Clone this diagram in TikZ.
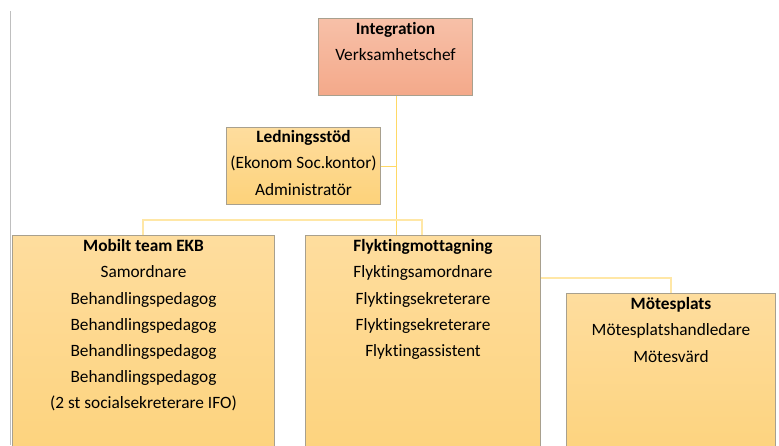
\documentclass[tikz,border=0pt]{standalone}
\usepackage{fontspec}
\setmainfont[Ligatures={NoCommon,TeX}]{Carlito}
\definecolor{salmonTop}{HTML}{F7C0A8}
\definecolor{salmonBot}{HTML}{F4A98A}
\definecolor{yelTop}{HTML}{FEDD9E}
\definecolor{yelBot}{HTML}{FDD27A}
\definecolor{boxBorder}{HTML}{A8A08E}
\definecolor{linkMain}{HTML}{FFD966}
\definecolor{linkLight}{HTML}{FFE7A6}
\definecolor{sideLine}{HTML}{BFBFBF}
\tikzset{
  box/.style={draw=boxBorder, line width=1pt, inner sep=0pt, anchor=north west, top color=yelTop, bottom color=yelBot},
  topbox/.style={box, top color=salmonTop, bottom color=salmonBot},
  boxtext/.style={anchor=north, inner sep=0pt, align=center, font=\fontsize{17.3}{26.2}\selectfont},
  link/.style={draw=linkMain, line width=1pt},
  linklight/.style={draw=linkLight, line width=1.2pt}
}
\begin{document}
\begin{tikzpicture}[x=1pt,y=-1pt]
\useasboundingbox (0,0) rectangle (779,445);
\clip (0,0) rectangle (779,445);
\draw[sideLine, line width=1pt] (10,11) -- (10,445);
% boxes
\node[topbox, minimum width=154pt, minimum height=77pt] (integ) at (318,18) {};
\node[box, minimum width=154pt, minimum height=77pt] (led) at (226,127) {};
\node[box, minimum width=262pt, minimum height=240pt] (mob) at (12,235) {};
\node[box, minimum width=235pt, minimum height=240pt] (fly) at (305,235) {};
\node[box, minimum width=209pt, minimum height=180pt] (mot) at (566,293) {};
% junctions
\coordinate (jv) at (396,220);
\coordinate (jl) at (143,220);
\coordinate (jr) at (422,220);
\coordinate (jm) at (671,278);
% connectors
\draw[link] (integ.south -| jv) -- (jv |- fly.north);
\draw[link] (led.east) -- (led.east -| jv);
\draw[linklight] (jl |- mob.north) -- (jl) -- (jr) -- (jr |- fly.north);
\draw[linklight] (fly.east |- jm) -- (jm) -- (jm |- mot.north);
% texts
\node[boxtext, yshift=-2.5pt] (integt) at (integ.north) {\rule{0pt}{14pt}\textbf{Integration}\\Verksamhetschef};
\node[boxtext, yshift=-1.5pt] (ledt) at (led.north) {\rule{0pt}{14pt}\textbf{Ledningsstöd}\\(Ekonom Soc.kontor)\\Administratör};
\node[boxtext, yshift=-2.5pt] (mobt) at (mob.north) {\rule{0pt}{14pt}\textbf{Mobilt team EKB}\\Samordnare\\Behandlingspedagog\\Behandlingspedagog\\Behandlingspedagog\\Behandlingspedagog\\(2 st socialsekreterare IFO)};
\node[boxtext, yshift=-2.5pt] (flyt) at (fly.north) {\rule{0pt}{14pt}\textbf{Flyktingmottagning}\\Flyktingsamordnare\\Flyktingsekreterare\\Flyktingsekreterare\\Flyktingassistent};
\node[boxtext, yshift=-2.5pt] (mott) at (mot.north) {\rule{0pt}{14pt}\textbf{Mötesplats}\\Mötesplatshandledare\\Mötesvärd};
\end{tikzpicture}
\end{document}
